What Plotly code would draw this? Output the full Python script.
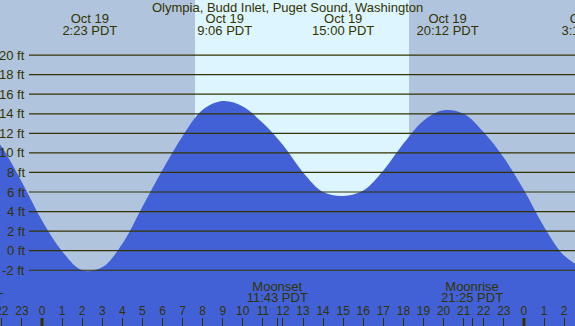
import plotly.graph_objects as go

# ---- data (hourly water level, ft) ----
tide_hours = list(range(-3, 28))
tide_ft = [13.2, 10.6, 7.0, 3.1, -0.05, -2.0, -1.7, 0.7, 4.5, 8.25, 11.7, 14.4, 15.3,
           14.75, 13.05, 10.8, 8.0, 6.0, 5.6, 6.15, 8.2, 10.95, 13.3, 14.35, 14.0, 12.1,
           9.5, 6.2, 2.45, -0.5, -1.85]

extreme_hours = [2.383, 9.1, 15.0, 20.2, 27.24]
extreme_dates = ["Oct 19", "Oct 19", "Oct 19", "Oct 19", "Oct 20"]
extreme_times = ["2:23 PDT", "9:06 PDT", "15:00 PDT", "20:12 PDT", "3:14 PDT"]

moon_hours = [-3.48, 11.717, 21.417]
moon_names = ["Moonrise", "Moonset", "Moonrise"]
moon_times = ["20:30 PDT", "11:43 PDT", "21:25 PDT"]

sunrise_hour = 7.62
sunset_hour = 18.28

ft_ticks = [-2, 0, 2, 4, 6, 8, 10, 12, 14, 16, 18, 20]
hour_ticks = list(range(-3, 28))
hour_labels = [str(h % 24) for h in hour_ticks]
midnight_hours = [0, 24]

title_text = "Olympia, Budd Inlet, Puget Sound, Washington"

# ---- layout constants ----
W, H = 575, 326
PX_PER_HOUR = 20.08
X0_PX = 42.0
X_LEFT = -X0_PX / PX_PER_HOUR
X_RIGHT = (W - X0_PX) / PX_PER_HOUR
PX_PER_FT = 9.78
ZERO_PX = 250.7
Y_TOP = ZERO_PX / PX_PER_FT
Y_BOT = -(H - ZERO_PX) / PX_PER_FT


def py(pix):
    return Y_TOP - pix / PX_PER_FT


NIGHT = "#B0C4DE"
DAY = "#DCF5FE"
FILL = "#4261D7"
INK = "#333300"
FONT = "Liberation Sans, Arial, sans-serif"

fig = go.Figure()

fig.add_trace(go.Scatter(x=[tide_hours[0], tide_hours[-1]], y=[-10, -10], mode="lines",
                         line=dict(width=0), hoverinfo="skip", showlegend=False))
fig.add_trace(go.Scatter(x=tide_hours, y=tide_ft, mode="lines",
                         line=dict(width=0, shape="spline", smoothing=1.0),
                         fill="tonexty", fillcolor=FILL, showlegend=False))

# extreme labels (two lines)
fig.add_trace(go.Scatter(x=extreme_hours, y=[py(19.5)] * len(extreme_hours), mode="text",
                         text=extreme_dates, textposition="middle center",
                         textfont=dict(family=FONT, size=13, color=INK), showlegend=False))
fig.add_trace(go.Scatter(x=extreme_hours, y=[py(31.5)] * len(extreme_hours), mode="text",
                         text=extreme_times, textposition="middle center",
                         textfont=dict(family=FONT, size=13, color=INK), showlegend=False))
# moon labels
fig.add_trace(go.Scatter(x=moon_hours, y=[py(287.5)] * len(moon_hours), mode="text",
                         text=moon_names, textposition="middle center",
                         textfont=dict(family=FONT, size=13, color=INK), showlegend=False))
fig.add_trace(go.Scatter(x=moon_hours, y=[py(299)] * len(moon_hours), mode="text",
                         text=moon_times, textposition="middle center",
                         textfont=dict(family=FONT, size=13, color=INK), showlegend=False))
# hour labels
fig.add_trace(go.Scatter(x=hour_ticks, y=[py(312)] * len(hour_ticks), mode="text",
                         text=hour_labels, textposition="middle center",
                         textfont=dict(family=FONT, size=12, color=INK), showlegend=False))

shapes = [dict(type="rect", xref="x", yref="paper", x0=sunrise_hour, x1=sunset_hour,
               y0=0, y1=1, fillcolor=DAY, line=dict(width=0), layer="below")]
for v in ft_ticks:
    shapes.append(dict(type="line", xref="paper", yref="y", x0=29 / W, x1=1, y0=v, y1=v,
                       line=dict(color=INK, width=1.2), layer="above"))
for m in midnight_hours:
    shapes.append(dict(type="line", xref="x", yref="paper", x0=m, x1=m, y0=0, y1=8 / H,
                       line=dict(color=INK, width=3), layer="above"))

annotations = [dict(xref="paper", yref="y", x=27 / W, y=v, xanchor="right", yanchor="middle",
                    text=f"{v} ft", showarrow=False,
                    font=dict(family=FONT, size=13, color=INK)) for v in ft_ticks]
annotations.append(dict(xref="paper", yref="paper", x=0.5, y=1 - 7.5 / H, xanchor="center",
                        yanchor="middle", text=title_text, showarrow=False,
                        font=dict(family=FONT, size=13, color=INK)))

fig.update_layout(
    width=W, height=H,
    margin=dict(l=0, r=0, t=0, b=0),
    paper_bgcolor=NIGHT, plot_bgcolor=NIGHT,
    shapes=shapes, annotations=annotations,
    xaxis=dict(range=[X_LEFT, X_RIGHT], showgrid=False, zeroline=False, showline=False,
               ticks="inside", ticklen=8, tickwidth=1, tickcolor=INK,
               tickvals=hour_ticks + moon_hours, showticklabels=False, fixedrange=True),
    yaxis=dict(range=[Y_BOT, Y_TOP], showgrid=False, zeroline=False, showline=False,
               showticklabels=False, ticks="", fixedrange=True),
    showlegend=False,
)

fig.write_html("out.html", config={"displayModeBar": False},
               post_script="document.body.style.margin='0';document.body.style.padding='0';"
                           "document.body.style.overflow='hidden';")
